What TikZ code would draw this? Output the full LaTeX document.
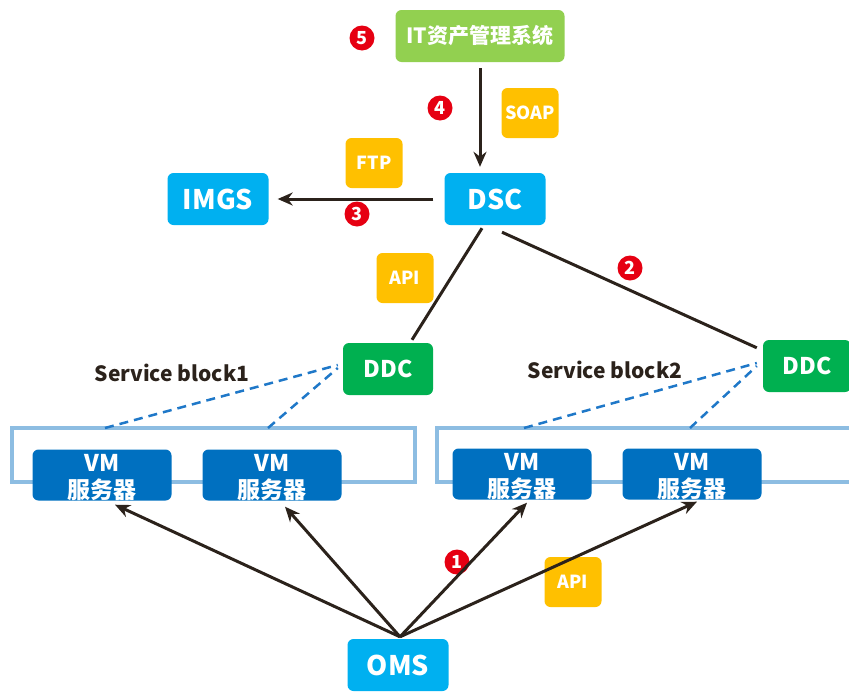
\documentclass[tikz,border=0pt]{standalone}
\usepackage{fontspec}
\setmainfont{Noto Sans CJK SC}
\usetikzlibrary{arrows.meta,calc}
\definecolor{cBlue}{HTML}{00B0F0}
\definecolor{cGreenL}{HTML}{92D050}
\definecolor{cGreen}{HTML}{00B050}
\definecolor{cYellow}{HTML}{FFC000}
\definecolor{cVM}{HTML}{0070C0}
\definecolor{cLine}{HTML}{2B221B}
\definecolor{cRed}{HTML}{E60012}
\definecolor{cFrame}{HTML}{8DBDE2}
\definecolor{cDash}{HTML}{1F78C8}
\tikzset{
  box/.style={rounded corners=6pt, inner sep=0pt, text=white, font=\bfseries},
  bluebox/.style={box, fill=cBlue, minimum width=101pt, minimum height=52pt, font=\bfseries\fontsize{27}{27}\selectfont},
  greenbox/.style={box, fill=cGreen, minimum height=52pt, font=\bfseries\fontsize{23}{23}\selectfont},
  tagbox/.style={box, fill=cYellow, minimum width=57pt, minimum height=50pt, font=\bfseries\fontsize{18}{18}\selectfont},
  vmbox/.style={box, fill=cVM, minimum width=139pt, minimum height=51pt},
  vmtext/.style={text=white, align=center, inner sep=0pt, yshift=-3pt, font=\bfseries\fontsize{23}{27}\selectfont},
  frame/.style={draw=cFrame, line width=4.5pt, fill=none, inner sep=0pt},
  badge/.style={circle, fill=cRed, text=white, inner sep=0pt, minimum size=25pt, font=\bfseries\fontsize{18}{18}\selectfont},
  arr/.style={draw=cLine, line width=3pt, -{Stealth[length=15pt,width=13pt]}},
  plain/.style={draw=cLine, line width=3pt},
  dashln/.style={draw=cDash, line width=2.5pt, dash pattern=on 9pt off 6pt},
  blocklabel/.style={text=cLine, font=\fontsize{21}{21}\selectfont\bfseries},
}
\begin{document}
\begin{tikzpicture}[x=1pt,y=-1pt]
\useasboundingbox (0,0) rectangle (849,691);
% containers
\draw[frame] (12,428) rectangle (415,482);
\draw[frame] (437,428) rectangle (855,482);
\coordinate (c1a) at (105,428);
\coordinate (c1b) at (268,428);
\coordinate (c2a) at (524,428);
\coordinate (c2b) at (690,428);
% nodes
\node[box, fill=cGreenL, minimum width=169pt, minimum height=52pt, font=\bfseries\fontsize{21}{21}\selectfont] (it) at (480,36) {IT资产管理系统};
\node[bluebox] (dsc) at (495,199) {DSC};
\node[bluebox] (imgs) at (218,199) {IMGS};
\node[bluebox] (oms) at (398,665) {OMS};
\node[greenbox, minimum width=90pt] (ddc1) at (388,369) {DDC};
\node[greenbox, minimum width=88pt] (ddc2) at (807,366) {DDC};
\node[tagbox] (soap) at (530,113) {SOAP};
\node[tagbox] (ftp) at (374,163) {FTP};
\node[tagbox] (api1) at (405,278) {API};
\node[tagbox] (api2) at (573,582) {API};
\node[vmbox, label={[vmtext]center:VM\\服务器}] (vm1) at (102,475) {};
\node[vmbox, label={[vmtext]center:VM\\服务器}] (vm2) at (272,475) {};
\node[vmbox, label={[vmtext]center:VM\\服务器}] (vm3) at (522,474) {};
\node[vmbox, label={[vmtext]center:VM\\服务器}] (vm4) at (692,474) {};
\node[blocklabel] (sb1) at (172,373) {Service block1};
\node[blocklabel] (sb2) at (605,370) {Service block2};
% badges
\node[badge] (b5) at (362,38) {5};
\node[badge] (b4) at (440,108) {4};
\node[badge] (b3) at (357,214) {3};
\node[badge] (b2) at (630,268) {2};
\node[badge] (b1) at (457,562) {1};
% connectors
\draw[arr] ([yshift=-6pt]it.south) -- ([yshift=6pt]dsc.north -| it.south);
\draw[arr] ([xshift=-11pt]dsc.west) -- ([xshift=9pt]imgs.east);
\draw[plain] ([xshift=-13pt,yshift=-3pt]dsc.south) -- ([xshift=24pt,yshift=3pt]ddc1.north);
\draw[plain] ([xshift=7pt,yshift=-7pt]dsc.south) -- ([xshift=-6pt,yshift=-8pt]ddc2.north west);
\draw[dashln] (c1a) -- ([xshift=-5pt,yshift=4pt]ddc1.west);
\draw[dashln] (c1b) -- ([xshift=-5pt,yshift=1pt]ddc1.west);
\draw[dashln] (c2a) -- ([xshift=-6pt,yshift=3pt]ddc2.west);
\draw[dashln] (c2b) -- ([xshift=-6pt,yshift=0pt]ddc2.west);
\coordinate (omstop) at ([xshift=2pt,yshift=2pt]oms.north);
\draw[arr] (omstop) -- ([xshift=13pt,yshift=-4pt]vm1.south);
\draw[arr] (omstop) -- ([xshift=13pt,yshift=-6pt]vm2.south);
\draw[arr] (omstop) -- ([xshift=5pt,yshift=-3pt]vm3.south);
\draw[arr] (omstop) -- ([xshift=5pt,yshift=-2pt]vm4.south);
\end{tikzpicture}
\end{document}
